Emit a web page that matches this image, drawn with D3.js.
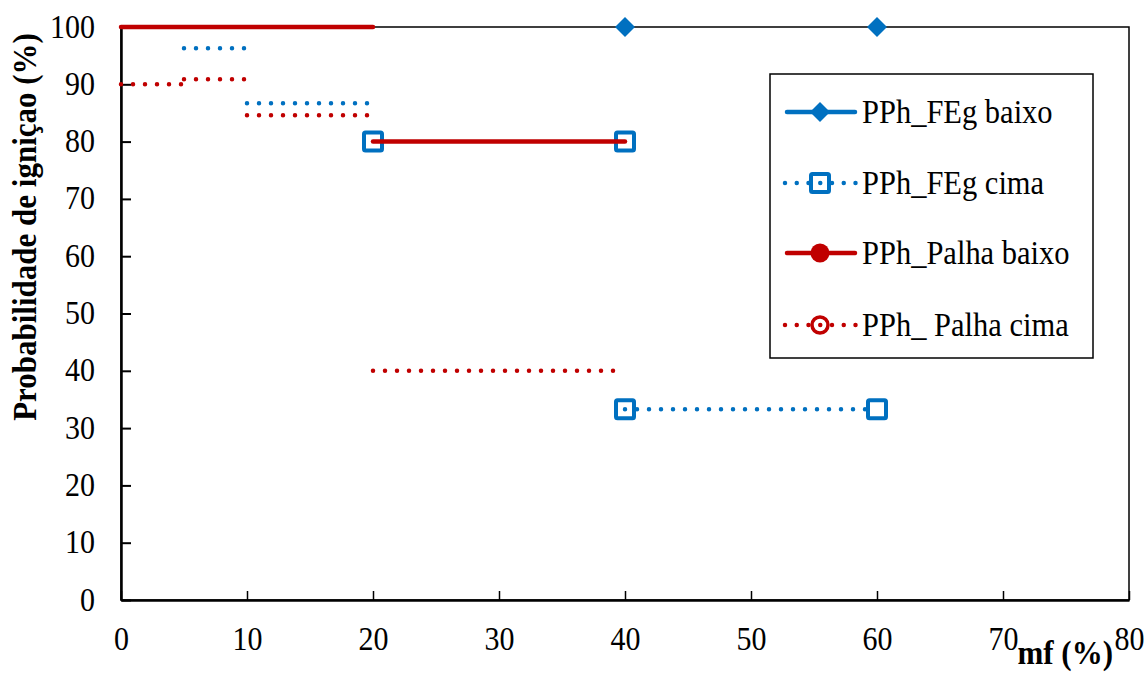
<!DOCTYPE html>
<html>
<head>
<meta charset="utf-8">
<script src="https://cdn.jsdelivr.net/npm/d3@7"></script>
<style>
  html, body { margin: 0; padding: 0; background: #fff; }
  svg { display: block; }
</style>
</head>
<body>
<svg id="chart" width="1147" height="675"></svg>
<script>
// Axis ticks
const xTicks = [0, 10, 20, 30, 40, 50, 60, 70, 80];
const yTicks = [0, 10, 20, 30, 40, 50, 60, 70, 80, 90, 100];

// Series names
const seriesNames = ["PPh_FEg baixo", "PPh_FEg cima", "PPh_Palha baixo", "PPh_ Palha cima"];

// Step segments per series: [x start, x end, probability]
const fegBaixoSteps = [];
const fegCimaSteps = [[5, 10, 96.3], [10, 20, 86.7], [40, 60, 33.3]];
const palhaBaixoSteps = [[0, 20, 100], [20, 40, 80]];
const palhaCimaSteps = [[0, 5, 90], [5, 10, 90.9], [10, 20, 84.6], [20, 40, 40]];

// Marked points per series: [x, probability]
const fegBaixoPoints = [[40, 100], [60, 100]];
const fegCimaPoints = [[20, 80], [40, 80], [40, 33.3], [60, 33.3]];

const blue = "#0070C0";
const red = "#C00000";
const serif = "Liberation Serif";
const stretch = 1.12; // labels are set slightly taller than wide

const svg = d3.select("#chart");
const x = d3.scaleLinear().domain([0, 80]).range([121, 1129]);
const y = d3.scaleLinear().domain([0, 100]).range([600, 27]);

// Plot frame
svg.append("rect")
  .attr("x", x(0)).attr("y", y(100))
  .attr("width", x(80) - x(0)).attr("height", y(0) - y(100))
  .attr("fill", "none").attr("stroke", "#000").attr("stroke-width", 1.5);

// Axes with inward ticks
const xAxis = svg.append("g").attr("transform", `translate(0,${y(0)})`)
  .call(d3.axisBottom(x).tickValues(xTicks).tickSizeInner(-9).tickSizeOuter(0).tickFormat(d3.format("d")));
xAxis.attr("font-family", serif).attr("font-size", 30);
xAxis.select(".domain").attr("stroke", "#000").attr("stroke-width", 2.5);
xAxis.selectAll(".tick line").attr("stroke", "#000").attr("stroke-width", 1.5);
xAxis.selectAll(".tick text").attr("y", 0).attr("dy", 0).attr("fill", "#000")
  .attr("transform", `translate(0,50) scale(1,${stretch})`);

const yAxis = svg.append("g").attr("transform", `translate(${x(0)},0)`)
  .call(d3.axisLeft(y).tickValues(yTicks).tickSizeInner(-10).tickSizeOuter(0).tickFormat(d3.format("d")));
yAxis.attr("font-family", serif).attr("font-size", 30);
yAxis.select(".domain").attr("stroke", "#000").attr("stroke-width", 2.5);
yAxis.selectAll(".tick line").attr("stroke", "#000").attr("stroke-width", 2);
yAxis.selectAll(".tick text").attr("x", -26).attr("dy", 0).attr("fill", "#000")
  .attr("transform", `translate(0,10) scale(1,${stretch})`);

// Axis titles
svg.append("text")
  .attr("transform", `translate(36,227) rotate(-90) scale(1,${stretch})`)
  .attr("text-anchor", "middle")
  .attr("font-family", serif).attr("font-size", 31).attr("font-weight", "bold")
  .text("Probabilidade de igniçao (%)");
svg.append("text")
  .attr("transform", `translate(1113,664) scale(1,${stretch})`)
  .attr("text-anchor", "end")
  .attr("font-family", serif).attr("font-size", 31).attr("font-weight", "bold")
  .text("mf (%)");

const plot = svg.append("g");

function drawSteps(steps, color, dotted, width) {
  plot.selectAll(null).data(steps).enter().append("line")
    .attr("x1", d => x(d[0])).attr("x2", d => x(d[1]))
    .attr("y1", d => y(d[2])).attr("y2", d => y(d[2]))
    .attr("stroke", color)
    .attr("stroke-width", width)
    .attr("stroke-linecap", "round")
    .attr("stroke-dasharray", dotted ? "0 12" : null);
}

function square(g, cx, cy, color) {
  g.append("rect").attr("x", cx - 9).attr("y", cy - 9).attr("width", 18).attr("height", 18)
    .attr("rx", 1.5).attr("fill", "none").attr("stroke", color).attr("stroke-width", 4);
}
function diamond(g, cx, cy, color) {
  g.append("path").attr("d", `M${cx},${cy - 10}L${cx + 10},${cy}L${cx},${cy + 10}L${cx - 10},${cy}Z`)
    .attr("fill", color);
}

// Blue dotted steps and their square markers
drawSteps(fegCimaSteps, blue, true, 4.5);
fegCimaPoints.forEach(p => square(plot, x(p[0]), y(p[1]), blue));

// Red steps
drawSteps(palhaCimaSteps, red, true, 4.5);
drawSteps(palhaBaixoSteps, red, false, 4.5);

// Blue diamonds on the top edge
fegBaixoPoints.forEach(p => diamond(plot, x(p[0]), y(p[1]), blue));

// Legend
const legend = svg.append("g");
legend.append("rect").attr("x", 770).attr("y", 74).attr("width", 323).attr("height", 284)
  .attr("fill", "#fff").attr("stroke", "#000").attr("stroke-width", 1.5);
const rowsY = [112, 183, 253, 325];
const lx0 = 787, lx1 = 855, lmx = 820;

// Row 1: solid blue with diamond
legend.append("line").attr("x1", lx0).attr("x2", lx1).attr("y1", rowsY[0]).attr("y2", rowsY[0])
  .attr("stroke", blue).attr("stroke-width", 4.5).attr("stroke-linecap", "round");
diamond(legend, lmx, rowsY[0], blue);

// Row 2: dotted blue with square
legend.append("line").attr("x1", lx0 - 2).attr("x2", lx1 + 2).attr("y1", rowsY[1]).attr("y2", rowsY[1])
  .attr("stroke", blue).attr("stroke-width", 4.5).attr("stroke-linecap", "round").attr("stroke-dasharray", "0 11.75");
square(legend, lmx, rowsY[1], blue);

// Row 3: solid red with filled circle
legend.append("line").attr("x1", lx0).attr("x2", lx1).attr("y1", rowsY[2]).attr("y2", rowsY[2])
  .attr("stroke", red).attr("stroke-width", 4.5).attr("stroke-linecap", "round");
legend.append("circle").attr("cx", lmx).attr("cy", rowsY[2]).attr("r", 9.5).attr("fill", red);

// Row 4: dotted red with open circle
legend.append("line").attr("x1", lx0 - 2).attr("x2", lx1 + 2).attr("y1", rowsY[3]).attr("y2", rowsY[3])
  .attr("stroke", red).attr("stroke-width", 4.5).attr("stroke-linecap", "round").attr("stroke-dasharray", "0 11.75");
legend.append("circle").attr("cx", lmx).attr("cy", rowsY[3]).attr("r", 8).attr("fill", "none")
  .attr("stroke", red).attr("stroke-width", 3.5);

legend.selectAll(null).data(seriesNames).enter().append("text")
  .attr("transform", (d, i) => `translate(862,${rowsY[i] + 11}) scale(1,${stretch})`)
  .attr("font-family", serif).attr("font-size", 30.5)
  .text(d => d);
</script>
</body>
</html>
